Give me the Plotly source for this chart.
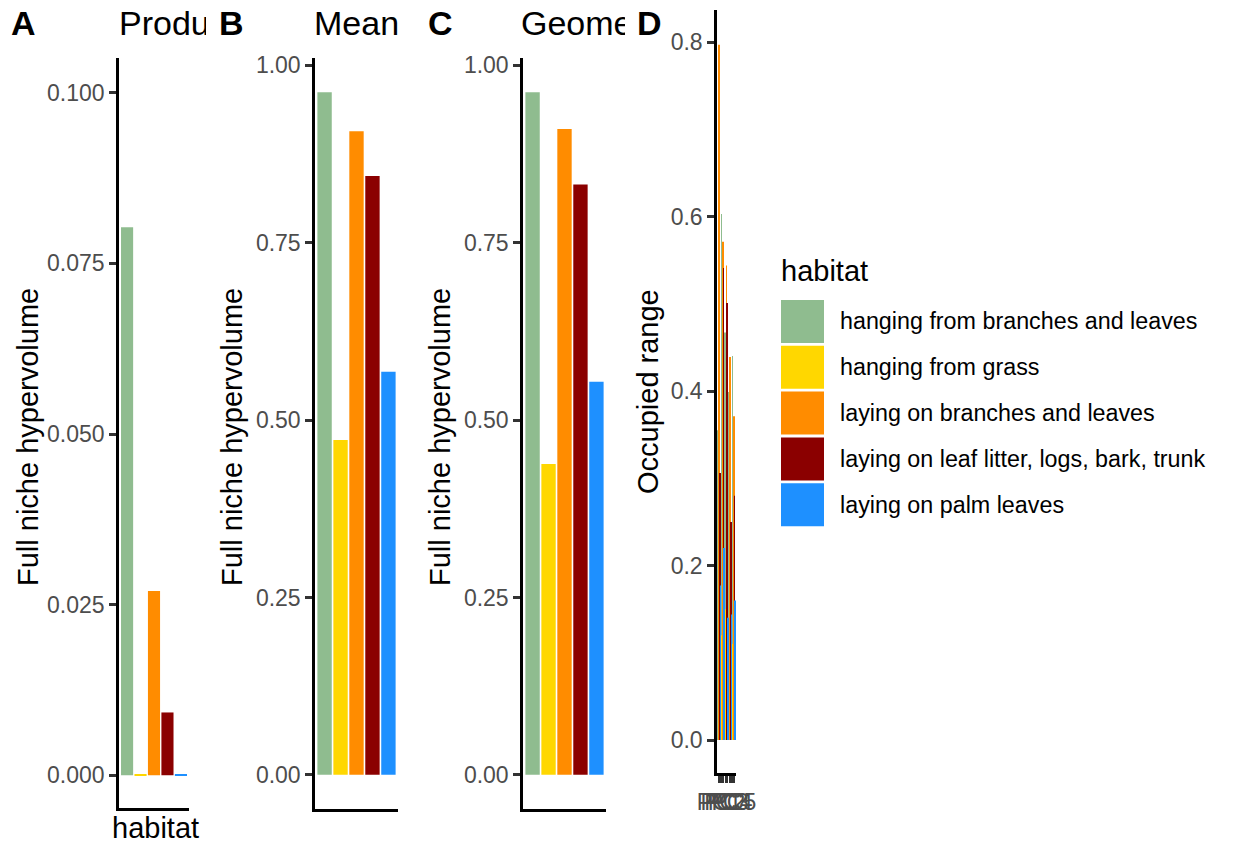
import plotly.graph_objects as go

# ---- data ----
habitats = [
    "hanging from branches and leaves",
    "hanging from grass",
    "laying on branches and leaves",
    "laying on leaf litter, logs, bark, trunk",
    "laying on palm leaves",
]
colors = ["#8FBC8F", "#FFD700", "#FF8C00", "#8B0000", "#1E90FF"]

product_vol = [0.0803, 0.0001, 0.0270, 0.0092, 0.0001]
mean_vol = [0.962, 0.472, 0.907, 0.844, 0.568]
geomean_vol = [0.962, 0.438, 0.910, 0.832, 0.554]

axes_d = ["PC1", "PC2", "PC3", "PC4", "PC5"]
occupied = {
    habitats[0]: [0.355, 0.603, 0.467, 0.399, 0.440],
    habitats[1]: [0.100, 0.120, 0.150, 0.130, 0.110],
    habitats[2]: [0.797, 0.571, 0.544, 0.439, 0.371],
    habitats[3]: [0.306, 0.541, 0.501, 0.250, 0.280],
    habitats[4]: [0.177, 0.220, 0.140, 0.144, 0.160],
}

W, H = 1233, 843
FONT = "Liberation Sans, Arial, sans-serif"
TICK_COL = "#4D4D4D"


def fx(px):
    return px / W


def fy(py):
    return 1 - py / H


fig = go.Figure()

# panels A-C: one bar per habitat
for i, vals in enumerate([product_vol, mean_vol, geomean_vol], start=1):
    fig.add_trace(go.Bar(
        x=habitats, y=vals, marker=dict(color=colors, line=dict(width=0)),
        xaxis=f"x{i}", yaxis=f"y{i}", showlegend=False,
    ))

# panel D: habitats dodged within each axis
for h, c in zip(habitats, colors):
    fig.add_trace(go.Bar(
        x=axes_d, y=occupied[h], name=h, marker=dict(color=c, line=dict(width=0)),
        xaxis="x4", yaxis="y4", showlegend=False,
    ))

# panel geometry in pixels: (left, right, top, bottom)
panels = {
    1: (119, 189, 58, 808),
    2: (315, 398, 58, 809),
    3: (523, 606, 58, 809),
    4: (717, 736, 10, 773),
}
yranges = {
    1: [-0.0048, 0.1051],
    2: [-0.0481, 1.0101],
    3: [-0.0481, 1.0101],
    4: [-0.0378, 0.8367],
}
yticks = {
    1: ([0, 0.025, 0.05, 0.075, 0.1], ".3f"),
    2: ([0, 0.25, 0.5, 0.75, 1.0], ".2f"),
    3: ([0, 0.25, 0.5, 0.75, 1.0], ".2f"),
    4: ([0, 0.2, 0.4, 0.6, 0.8], ".1f"),
}

layout = dict(
    width=W, height=H, margin=dict(l=0, r=0, t=0, b=0, autoexpand=False),
    paper_bgcolor="white", plot_bgcolor="white",
    barmode="group", bargap=0.1, bargroupgap=0,
    font=dict(family=FONT, color="black"),
    showlegend=False,
)

for i, (l, r, t, b) in panels.items():
    sfx = "" if i == 1 else str(i)
    xa = dict(
        domain=[fx(l), fx(r)], anchor=f"y{i}", range=[-0.6, 4.6],
        showline=True, linecolor="black", linewidth=2.5,
        showgrid=False, zeroline=False, automargin=False,
        showticklabels=(i == 4),
        ticks="outside" if i == 4 else "", ticklen=7, tickwidth=2.5, tickcolor="#333333",
        tickfont=dict(size=23, color=TICK_COL, family=FONT),
        tickangle=0, fixedrange=True,
    )
    if i == 4:
        xa.update(tickmode="array", tickvals=axes_d, ticktext=axes_d)
    layout[f"xaxis{sfx}"] = xa
    vals, fmt = yticks[i]
    layout[f"yaxis{sfx}"] = dict(
        domain=[fy(b), fy(t)], anchor=f"x{i}", range=yranges[i],
        showline=True, linecolor="black", linewidth=2.5,
        showgrid=False, zeroline=False, automargin=False,
        tickmode="array", tickvals=vals, tickformat=fmt,
        ticks="outside", ticklen=7, tickwidth=2.5, tickcolor="#333333",
        tickfont=dict(size=23, color=TICK_COL, family=FONT),
        fixedrange=True,
    )

annotations = []

# panel titles; each is cut at the edge of its cell
for title, left, right in [("Product", 118, 205), ("Mean", 313, None),
                           ("Geometric mean", 520, 624)]:
    ann = dict(
        text=title, x=fx(left), y=fy(23), xref="paper", yref="paper",
        xanchor="left", yanchor="middle", showarrow=False, align="left",
        borderpad=0, font=dict(size=34, color="black", family=FONT),
    )
    if right is not None:
        ann["width"] = right - left
    annotations.append(ann)

# panel tags
for tag, tx in [("A", 9), ("B", 217), ("C", 426), ("D", 635)]:
    annotations.append(dict(
        text=f"<b>{tag}</b>", x=fx(tx), y=fy(23), xref="paper", yref="paper",
        xanchor="left", yanchor="middle", showarrow=False,
        font=dict(size=34, color="black", family=FONT),
    ))

# y-axis titles
for cx, cy, txt in [(28, 437, "Full niche hypervolume"), (232, 437, "Full niche hypervolume"),
                    (440, 437, "Full niche hypervolume"), (648, 392, "Occupied range")]:
    annotations.append(dict(
        text=txt, x=fx(cx), y=fy(cy), xref="paper", yref="paper",
        xanchor="center", yanchor="middle", textangle=-90, showarrow=False,
        font=dict(size=29, color="black", family=FONT),
    ))

# x-axis title of panel A
annotations.append(dict(
    text="habitat", x=fx(155), y=fy(828), xref="paper", yref="paper",
    xanchor="center", yanchor="middle", showarrow=False,
    font=dict(size=29, color="black", family=FONT),
))

# legend built from keys and labels
shapes = []
annotations.append(dict(
    text="habitat", x=fx(779), y=fy(271), xref="paper", yref="paper",
    xanchor="left", yanchor="middle", showarrow=False,
    font=dict(size=29, color="black", family=FONT),
))
key_top = 300
key_step = 45.8
for k, (h, c) in enumerate(zip(habitats, colors)):
    y0 = key_top + k * key_step
    shapes.append(dict(
        type="rect", xref="paper", yref="paper",
        x0=fx(781), x1=fx(824), y0=fy(y0 + 43), y1=fy(y0),
        fillcolor=c, line=dict(width=0),
    ))
    annotations.append(dict(
        text=h, x=fx(838), y=fy(y0 + 21.5), xref="paper", yref="paper",
        xanchor="left", yanchor="middle", showarrow=False,
        font=dict(size=23.3, color="black", family=FONT),
    ))

layout["annotations"] = annotations
layout["shapes"] = shapes
fig.update_layout(**layout)

fig.write_html("out.html")
